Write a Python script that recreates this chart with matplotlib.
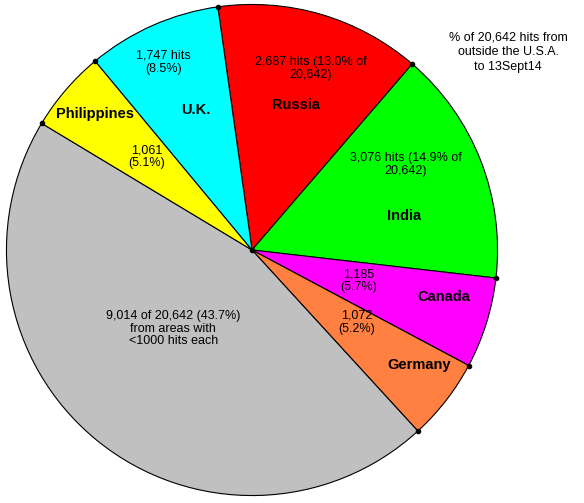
import numpy as np
import matplotlib
matplotlib.use('Agg')
import matplotlib.pyplot as plt

plt.rcParams['font.family'] = ['Liberation Sans', 'DejaVu Sans']

# slices, clockwise from the top
countries = ['Russia', 'India', 'Canada', 'Germany', 'others', 'Philippines', 'U.K.']
hits = [2687, 3076, 1185, 1072, 9014, 1061, 1747]
colors = ['#ff0000', '#00ff00', '#ff00ff', '#ff8040', '#c0c0c0', '#ffff00', '#00ffff']

value_labels = ['2,687 hits (13.0% of\n20,642)',
                '3,076 hits (14.9% of\n20,642)',
                '1,185\n(5.7%)',
                '1,072\n(5.2%)',
                '9,014 of 20,642 (43.7%)\nfrom areas with\n<1000 hits each',
                '1,061\n(5.1%)',
                '1,747 hits\n(8.5%)']
name_labels = ['Russia', 'India', 'Canada', 'Germany', '', 'Philippines', 'U.K.']

# label positions in pie data units (radius 1)
value_pos = [(0.24, 0.74), (0.625, 0.35), (0.435, -0.125), (0.425, -0.295),
             (-0.32, -0.32), (-0.43, 0.38), (-0.36, 0.765)]
name_pos = [(0.18, 0.59), (0.62, 0.14), (0.78, -0.19), (0.68, -0.47),
            None, (-0.64, 0.555), (-0.23, 0.57)]

fig = plt.figure(figsize=(5.84, 5.03), dpi=100)
ax = fig.add_axes([4 / 584, 5 / 503, 496 / 584, 496 / 503])

wedges, _ = ax.pie(hits, colors=colors, startangle=98, counterclock=False,
                   wedgeprops=dict(edgecolor='black', linewidth=0.8))
ax.set_xlim(-1.01, 1.01)
ax.set_ylim(-1.01, 1.01)
ax.set_aspect('equal')
ax.axis('off')

# dots at the rim where slices meet, and at the centre
for w in wedges:
    a = np.deg2rad(w.theta1)
    ax.plot(np.cos(a), np.sin(a), 'o', color='black', markersize=3, clip_on=False)
ax.plot(0, 0, 'o', color='black', markersize=3)

for txt, pos in zip(value_labels, value_pos):
    ax.text(pos[0], pos[1], txt, ha='center', va='center', fontsize=9, linespacing=1.1)
for txt, pos in zip(name_labels, name_pos):
    if pos is not None:
        ax.text(pos[0], pos[1], txt, ha='center', va='center', fontsize=10.5, fontweight='bold')

fig.text(0.87, 0.897, '% of 20,642 hits from\noutside the U.S.A.\nto 13Sept14',
         ha='center', va='center', fontsize=9, linespacing=1.3)

plt.savefig('out.png')
plt.close()
